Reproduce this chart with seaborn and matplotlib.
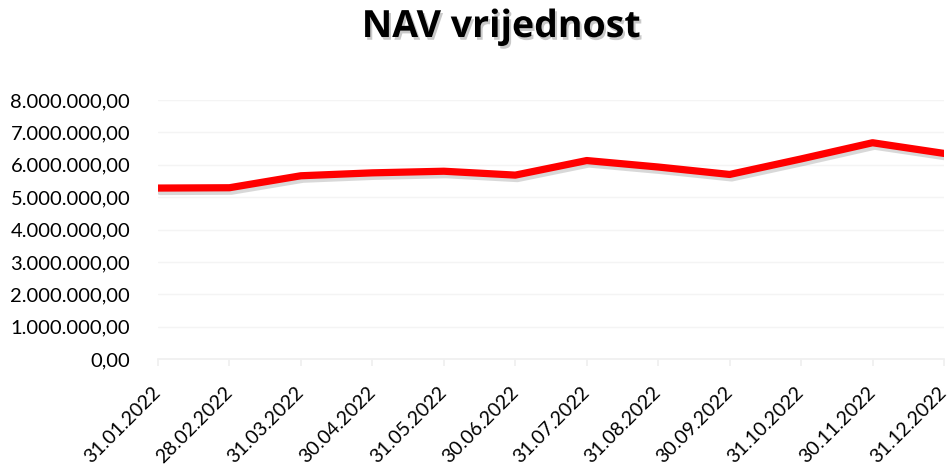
import matplotlib
matplotlib.use("Agg")
import matplotlib.pyplot as plt
import matplotlib.patheffects as pe
from matplotlib.ticker import FuncFormatter, MultipleLocator
import seaborn as sns
import pandas as pd

dates = ["31.01.2022", "28.02.2022", "31.03.2022", "30.04.2022", "31.05.2022", "30.06.2022",
         "31.07.2022", "31.08.2022", "30.09.2022", "31.10.2022", "30.11.2022", "31.12.2022"]
nav = [5280000, 5290000, 5660000, 5750000, 5800000, 5680000,
       6130000, 5930000, 5700000, 6180000, 6680000, 6350000]

df = pd.DataFrame({"pos": range(len(dates)), "nav": nav})

sns.set_theme(style="white")
plt.rcParams["font.family"] = ["Lato", "DejaVu Sans"]

fig = plt.figure(figsize=(9.51, 4.69), dpi=100)
ax = fig.add_axes([158 / 951, 1 - 359 / 469, (944 - 158) / 951, (359 - 100) / 469])

sns.lineplot(data=df, x="pos", y="nav", ax=ax, color="#ff0000", linewidth=5.2,
             solid_capstyle="round", solid_joinstyle="round")
line = ax.lines[0]
line.set_path_effects([pe.SimpleLineShadow(offset=(1.5, -2.5), shadow_color="#666666", alpha=0.25),
                       pe.Normal()])

ax.set_xlim(0, len(dates) - 1)
ax.set_ylim(0, 8000000)
ax.yaxis.set_major_locator(MultipleLocator(1000000))

def eur(v, _):
    s = f"{v:,.2f}"
    return s.replace(",", "X").replace(".", ",").replace("X", ".")

ax.yaxis.set_major_formatter(FuncFormatter(eur))
ax.set_xticks(range(len(dates)))
ax.set_xticklabels(dates, rotation=45, ha="right", va="center", rotation_mode="anchor")

ax.grid(axis="y", color="#f4f4f4", linewidth=1)
ax.set_axisbelow(True)
for s in ["top", "right", "left"]:
    ax.spines[s].set_visible(False)
ax.spines["bottom"].set_color("#f0f0f0")
ax.tick_params(axis="y", length=0, labelsize=14.5, colors="#000000", pad=20)
ax.tick_params(axis="x", length=5, color="#f0f0f0", labelsize=14, colors="#000000", pad=17,
               direction="out", bottom=True)
ax.set_xlabel("")
ax.set_ylabel("")

fig.text(501 / 951, 1 - 27 / 469, "NAV vrijednost", ha="center", va="center",
         fontsize=27, fontweight="bold", color="#000000", family=["Open Sans", "DejaVu Sans"],
         path_effects=[pe.withSimplePatchShadow(offset=(1.5, -2), shadow_rgbFace="#888888", alpha=0.45)])

fig.savefig("out.png", dpi=100, facecolor="white")
